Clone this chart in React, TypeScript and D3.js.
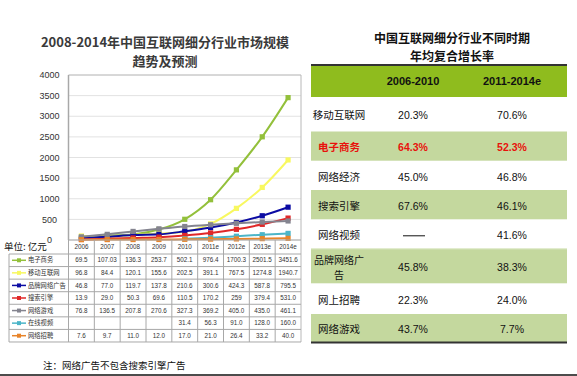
import React from "react";
import * as d3 from "d3";

// ---------- Data ----------
const years = ["2006", "2007", "2008", "2009", "2010", "2011e", "2012e", "2013e", "2014e"];
const seriesNames = ["电子商务", "移动互联网", "品牌网络广告", "搜索引擎", "网络游戏", "在线视频", "网络招聘"];
const ecommerce = ["69.5", "107.03", "136.3", "253.7", "502.1", "976.4", "1700.3", "2501.5", "3451.6"];
const mobile = ["96.8", "84.4", "120.1", "155.6", "202.5", "391.1", "767.5", "1274.8", "1940.7"];
const brandAds = ["46.8", "77.0", "119.7", "137.8", "210.6", "300.6", "424.3", "587.8", "795.5"];
const search = ["13.9", "29.0", "50.3", "69.6", "110.5", "170.2", "259", "379.4", "531.0"];
const games = ["76.8", "136.5", "207.8", "270.6", "327.3", "369.2", "405.0", "435.0", "461.1"];
const video = ["", "", "", "", "31.4", "56.3", "91.0", "128.0", "160.0"];
const recruit = ["7.6", "9.7", "11.0", "12.0", "17.0", "21.0", "26.4", "33.2", "40.0"];
const seriesValues = [ecommerce, mobile, brandAds, search, games, video, recruit];
const seriesColors = ["#93c03b", "#f8f860", "#0b0ba3", "#e02828", "#84848f", "#4bb5c8", "#e8842a"];
const yTicks = [0, 500, 1000, 1500, 2000, 2500, 3000, 3500, 4000];

const leftTitle = ["2008-2014年中国互联网细分行业市场规模", "趋势及预测"];
const unitLabel = "单位: 亿元";
const footnote = "注：网络广告不包含搜索引擎广告";

const rightTitle = ["中国互联网细分行业不同时期", "年均复合增长率"];
const periods = ["2006-2010", "2011-2014e"];
const industries = ["移动互联网", "电子商务", "网络经济", "搜索引擎", "网络视频", "品牌网络广告", "网上招聘", "网络游戏"];
const cagr0610 = ["20.3%", "64.3%", "45.0%", "67.6%", "——", "45.8%", "22.3%", "43.7%"];
const cagr1114 = ["70.6%", "52.3%", "46.8%", "46.1%", "41.6%", "38.3%", "24.0%", "7.7%"];
const highlightRow = "电子商务";

// ---------- Layout ----------
const W = 577, H = 376;
const plotL = 68.5, plotR = 301, plotT = 75, plotB = 240;
const tableRowTop = 254, tableRowH = 12.57, legendL = 9;
const rowEdges = [97, 131.5, 160.7, 190, 219.3, 249.3, 283.3, 314, 342];
const FONT_CJK = "'Noto Sans CJK SC', 'Liberation Sans', sans-serif";
const FONT_NUM = "'Liberation Sans', Arial, sans-serif";

export default function App() {
  const x = d3.scaleBand<string>().domain(years).range([plotL, plotR]).padding(0);
  const y = d3.scaleLinear().domain([0, 4000]).range([plotB, plotT]);
  const cx = (yr: string) => (x(yr) as number) + x.bandwidth() / 2;
  const line = d3
    .line<{ yr: string; v: number }>()
    .x((d) => cx(d.yr))
    .y((d) => y(d.v))
    .curve(d3.curveMonotoneX);

  const rowY = d3.scaleBand<string>().domain(seriesNames).range([tableRowTop, tableRowTop + tableRowH * seriesNames.length]);

  const pts = seriesValues.map((arr) =>
    arr.map((s, i) => ({ yr: years[i], v: +s, s })).filter((d) => d.s !== "")
  );

  return (
    <svg width={W} height={H} style={{ position: "absolute", left: 0, top: 0, background: "#fff" }}>
      {/* ---- Left chart title ---- */}
      {leftTitle.map((t, i) => (
        <text key={i} x={165} y={42 + i * 19} dy="0.35em" textAnchor="middle" fontFamily={FONT_CJK} fontSize={13} fontWeight="bold" fill="#3a3a3a">
          {t}
        </text>
      ))}

      {/* gridlines */}
      {yTicks.map((t) => (
        <line key={t} x1={plotL} x2={plotR} y1={y(t)} y2={y(t)} stroke={t === 4000 ? "#b0b0b0" : "#e2e2e2"} strokeWidth={1} />
      ))}
      <line x1={plotL} x2={plotL} y1={plotT} y2={plotB} stroke="#a8a8a8" strokeWidth={1.5} />
      <line x1={plotR} x2={plotR} y1={plotT} y2={342} stroke="#b8b8b8" strokeWidth={1} />
      {yTicks.map((t) => (
        <text key={t} x={49.5} y={y(t)} dy="0.35em" textAnchor="middle" fontFamily={FONT_NUM} fontSize={9} fill="#333">
          {t}
        </text>
      ))}

      {/* series */}
      {pts.map((p, si) => (
        <g key={si}>
          <path d={line(p) || ""} fill="none" stroke={seriesColors[si]} strokeWidth={2} />
          {p.map((d, i) => (
            <rect key={i} x={cx(d.yr) - 2.6} y={y(d.v) - 2.6} width={5.2} height={5.2} fill={seriesColors[si]} />
          ))}
        </g>
      ))}

      {/* ---- data table ---- */}
      <line x1={plotL} x2={plotR} y1={plotB} y2={plotB} stroke="#a8a8a8" strokeWidth={1} />
      {years.map((yr) => (
        <g key={yr}>
          <line x1={x(yr) as number} x2={x(yr) as number} y1={plotB} y2={342} stroke="#a8a8a8" strokeWidth={1} />
          <text x={cx(yr)} y={247} dy="0.35em" textAnchor="middle" fontFamily={FONT_NUM} fontSize={6.3} fill="#333">
            {yr}
          </text>
        </g>
      ))}
      <line x1={legendL} x2={legendL} y1={tableRowTop} y2={342} stroke="#a8a8a8" strokeWidth={1} />
      {[...seriesNames, "_end"].map((n, i) => (
        <line key={n} x1={legendL} x2={plotR} y1={tableRowTop + i * tableRowH} y2={tableRowTop + i * tableRowH} stroke="#a8a8a8" strokeWidth={1} />
      ))}
      {seriesNames.map((n, si) => {
        const yc = (rowY(n) as number) + rowY.bandwidth() / 2;
        return (
          <g key={n}>
            <line x1={12} x2={26} y1={yc} y2={yc} stroke={seriesColors[si]} strokeWidth={1.5} />
            <rect x={17} y={yc - 2} width={4} height={4} fill={seriesColors[si]} />
            <text x={28} y={yc} dy="0.35em" fontFamily={FONT_CJK} fontSize={6.3} fill="#333">
              {n}
            </text>
            {seriesValues[si].map((s, i) => (
              <text key={i} x={cx(years[i])} y={yc} dy="0.35em" textAnchor="middle" fontFamily={FONT_NUM} fontSize={6.3} fill="#333">
                {s}
              </text>
            ))}
          </g>
        );
      })}
      <text x={4} y={247} dy="0.35em" fontFamily={FONT_CJK} fontSize={9.5} fill="#111">
        {unitLabel}
      </text>
      <text x={43} y={366} dy="0.35em" fontFamily={FONT_CJK} fontSize={9.5} fill="#111">
        {footnote}
      </text>

      {/* ---- Right table ---- */}
      {rightTitle.map((t, i) => (
        <text key={i} x={452} y={39 + i * 17.5} dy="0.35em" textAnchor="middle" fontFamily={FONT_CJK} fontSize={12} fontWeight="bold" fill="#111">
          {t}
        </text>
      ))}
      <rect x={311} y={65} width={256} height={32} fill="#8fbc1e" />
      <line x1={311} x2={567} y1={65} y2={65} stroke="#333" strokeWidth={2} />
      {periods.map((p, i) => (
        <text key={p} x={i === 0 ? 413 : 512} y={81} dy="0.35em" textAnchor="middle" fontFamily={FONT_NUM} fontSize={11} fontWeight="bold" fill="#111">
          {p}
        </text>
      ))}
      {industries.map((ind, i) => {
        const top = rowEdges[i], bot = rowEdges[i + 1];
        const yc = (top + bot) / 2 + 1.5;
        const hi = ind === highlightRow;
        const color = hi ? "#e8120c" : "#111";
        const weight = hi ? "bold" : "normal";
        const wrap = ind.length > 5;
        return (
          <g key={ind}>
            {i % 2 === 1 && <rect x={311} y={top} width={256} height={bot - top} fill="#c4d89e" />}
            {wrap ? (
              <g>
                <text x={339} y={yc - 7.5} dy="0.35em" textAnchor="middle" fontFamily={FONT_CJK} fontSize={10} fill={color} fontWeight={weight}>
                  {ind.slice(0, 5)}
                </text>
                <text x={339} y={yc + 7.5} dy="0.35em" textAnchor="middle" fontFamily={FONT_CJK} fontSize={10} fill={color} fontWeight={weight}>
                  {ind.slice(5)}
                </text>
              </g>
            ) : (
              <text x={339} y={yc} dy="0.35em" textAnchor="middle" fontFamily={FONT_CJK} fontSize={10.5} fill={color} fontWeight={weight}>
                {ind}
              </text>
            )}
            {cagr0610[i] === "——" ? (
              <line x1={403} x2={425} y1={yc} y2={yc} stroke="#111" strokeWidth={1} />
            ) : (
              <text x={413} y={yc} dy="0.35em" textAnchor="middle" fontFamily={FONT_NUM} fontSize={10.5} fill={color} fontWeight={weight}>
                {cagr0610[i]}
              </text>
            )}
            <text x={512} y={yc} dy="0.35em" textAnchor="middle" fontFamily={FONT_NUM} fontSize={10.5} fill={color} fontWeight={weight}>
              {cagr1114[i]}
            </text>
          </g>
        );
      })}
      <line x1={311} x2={567} y1={249} y2={249} stroke="#c4d89e" strokeWidth={1} />
      <line x1={311} x2={567} y1={342.5} y2={342.5} stroke="#333" strokeWidth={2} />

      {/* bottom rule */}
      <line x1={0} x2={W} y1={375} y2={375} stroke="#111" strokeWidth={1.5} />
    </svg>
  );
}
